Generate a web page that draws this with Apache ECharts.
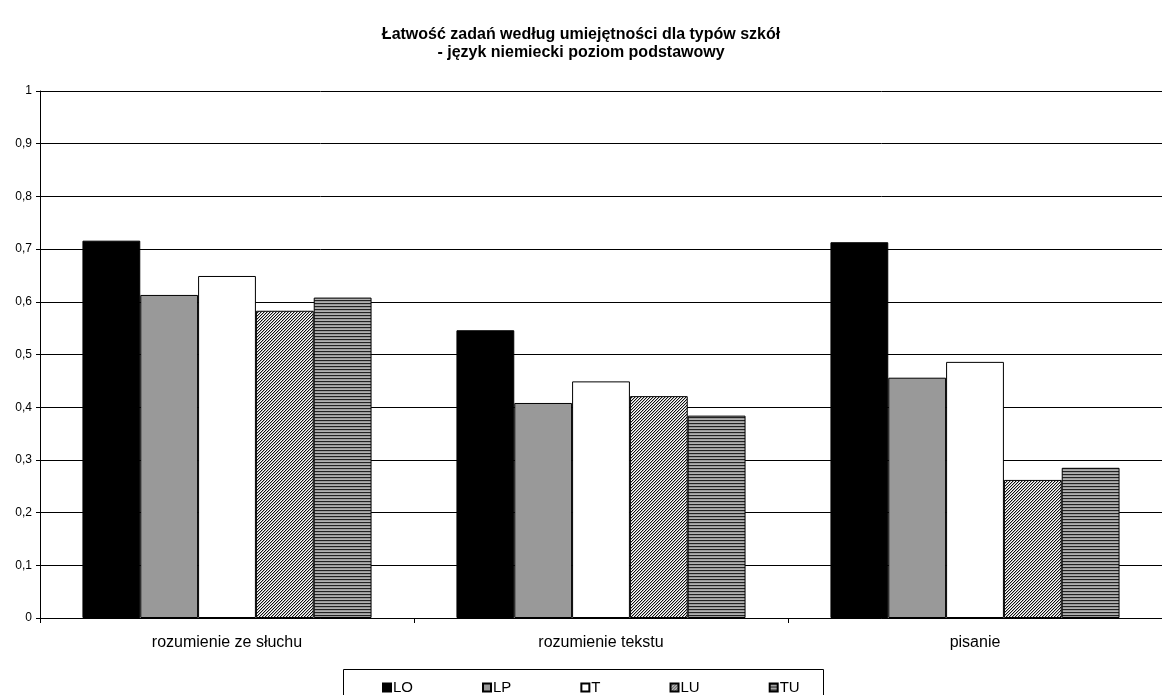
<!DOCTYPE html>
<html>
<head>
<meta charset="utf-8">
<script src="https://cdn.jsdelivr.net/npm/echarts@6/dist/echarts.min.js"></script>
<style>
html,body{margin:0;padding:0;background:#fff;}
#chart{width:1162px;height:695px;}
</style>
</head>
<body>
<div id="chart"></div>
<script>
const categories = ['rozumienie ze słuchu', 'rozumienie tekstu', 'pisanie'];
const seriesNames = ['LO', 'LP', 'T', 'LU', 'TU'];
const LO = [0.716, 0.546, 0.713];
const LP = [0.613, 0.408, 0.456];
const T  = [0.649, 0.449, 0.486];
const LU = [0.583, 0.421, 0.262];
const TU = [0.608, 0.384, 0.285];
const yTicks = [0, 0.1, 0.2, 0.3, 0.4, 0.5, 0.6, 0.7, 0.8, 0.9, 1];

function diagPattern() {
  const c = document.createElement('canvas');
  c.width = 3; c.height = 3;
  const ctx = c.getContext('2d');
  ctx.fillStyle = '#ffffff';
  ctx.fillRect(0, 0, 3, 3);
  for (let y = 0; y < 3; y++) {
    const x = (2 - y + 3) % 3;
    ctx.fillStyle = '#111111';
    ctx.fillRect(x, y, 1, 1);
    ctx.fillStyle = '#b4b4b4';
    ctx.fillRect((x + 1) % 3, y, 1, 1);
  }
  return c;
}
function stripePattern() {
  const c = document.createElement('canvas');
  c.width = 4; c.height = 3;
  const ctx = c.getContext('2d');
  ctx.fillStyle = '#222222'; ctx.fillRect(0, 0, 4, 1);
  ctx.fillStyle = '#9a9a9a'; ctx.fillRect(0, 1, 4, 1);
  ctx.fillStyle = '#b0b0b0'; ctx.fillRect(0, 2, 4, 1);
  return c;
}

const fills = [
  '#000000',
  '#999999',
  '#ffffff',
  { image: diagPattern(), repeat: 'repeat' },
  { image: stripePattern(), repeat: 'repeat' }
];
const values = [LO, LP, T, LU, TU];

const chart = echarts.init(document.getElementById('chart'), null, { renderer: 'canvas' });
const font = 'Liberation Sans, Arial, sans-serif';

chart.setOption({
  animation: false,
  backgroundColor: '#ffffff',
  textStyle: { fontFamily: font },
  title: {
    text: 'Łatwość zadań według umiejętności dla typów szkół\n- język niemiecki poziom podstawowy',
    left: 'center',
    top: 21,
    textStyle: { fontFamily: font, fontSize: 16, fontWeight: 'bold', color: '#000', lineHeight: 18 }
  },
  graphic: [{
    type: 'rect',
    shape: { x: 343.5, y: 669.5, width: 480, height: 30 },
    style: { fill: 'none', stroke: '#000', lineWidth: 1 },
    silent: true
  }],
  legend: {
    data: seriesNames,
    left: 377,
    top: 675,
    itemWidth: 8,
    itemHeight: 8,
    itemGap: 69,
    icon: 'rect',
    textStyle: { fontFamily: font, fontSize: 15, color: '#000', padding: [0, 0, 0, -3] }
  },
  grid: { left: 40, top: 91, width: 1134, height: 527 },
  xAxis: {
    type: 'category',
    data: categories,
    axisLine: { lineStyle: { color: '#000', width: 1 } },
    axisTick: { show: true, length: 5, lineStyle: { color: '#000' } },
    axisLabel: { color: '#000', fontSize: 16, margin: 17, fontFamily: font }
  },
  yAxis: {
    type: 'value',
    min: 0,
    max: 1,
    interval: 0.1,
    axisLine: { show: true, lineStyle: { color: '#000', width: 1 } },
    axisTick: { show: true, length: 4, lineStyle: { color: '#000' } },
    splitLine: { show: true, lineStyle: { color: '#000', width: 1 } },
    axisLabel: {
      color: '#000', fontSize: 12, margin: 8, fontFamily: font,
      formatter: function (v) {
        const m = yTicks.find(t => Math.abs(t - v) < 1e-9);
        return String(m !== undefined ? m : v).replace('.', ',');
      }
    }
  },
  series: seriesNames.map((name, i) => ({
    name: name,
    type: 'bar',
    data: values[i],
    barGap: '0%',
    barCategoryGap: '22.7%',
    itemStyle: { color: fills[i], borderColor: '#000', borderWidth: 1 }
  }))
});
</script>
</body>
</html>
